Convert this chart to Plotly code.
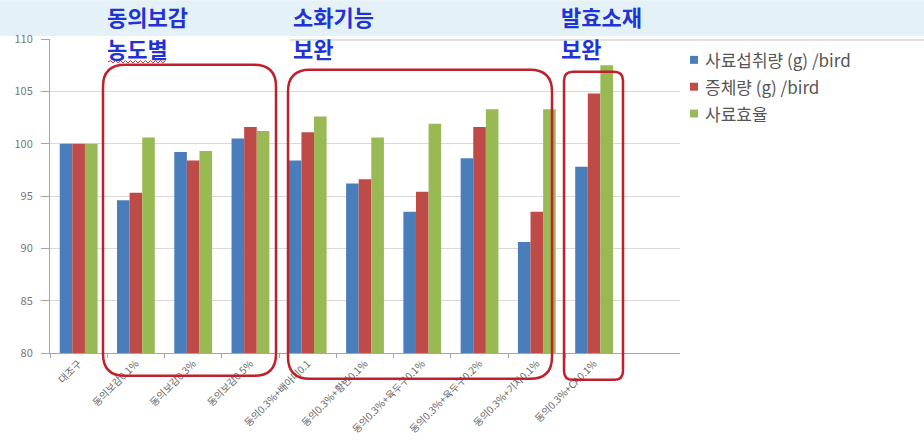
import plotly.graph_objects as go

# Treatment groups and relative performance indices (control = 100)
categories = [
    "대조구",
    "동의보감0.1%",
    "동의보감0.3%",
    "동의보감0.5%",
    "동의0.3%+배아미0.1",
    "동의0.3%+황반0.1%",
    "동의0.3%+육두구0.1%",
    "동의0.3%+육두구0.2%",
    "동의0.3%+기자0.1%",
    "동의0.3%+CA0.1%",
]
feed_intake = [100, 94.6, 99.2, 100.5, 98.4, 96.2, 93.5, 98.6, 90.6, 97.8]
weight_gain = [100, 95.3, 98.4, 101.6, 101.1, 96.6, 95.4, 101.6, 93.5, 104.8]
feed_eff = [100, 100.6, 99.3, 101.2, 102.6, 100.6, 101.9, 103.3, 103.3, 107.5]

series_names = ["사료섭취량 (g) /bird", "증체량 (g) /bird", "사료효율"]
series_colors = ["#4a7ebb", "#be4b48", "#98b954"]
y_ticks = [80, 85, 90, 95, 100, 105, 110]

group_titles = [("동의보감", "농도별"), ("소화기능", "보완"), ("발효소재", "보완")]

W, H = 924, 448
L, R, T, B = 50, 680, 39, 355  # plot area in pixels


def px(x):
    return (x - L) / (R - L)


def py(y):
    return (B - y) / (B - T)


def rounded_box(x0, y0, x1, y1, r):
    """SVG path for a rounded rectangle, given in pixel coordinates."""
    pts = [
        f"M {px(x0 + r)} {py(y0)}",
        f"L {px(x1 - r)} {py(y0)}",
        f"Q {px(x1)} {py(y0)} {px(x1)} {py(y0 + r)}",
        f"L {px(x1)} {py(y1 - r)}",
        f"Q {px(x1)} {py(y1)} {px(x1 - r)} {py(y1)}",
        f"L {px(x0 + r)} {py(y1)}",
        f"Q {px(x0)} {py(y1)} {px(x0)} {py(y1 - r)}",
        f"L {px(x0)} {py(y0 + r)}",
        f"Q {px(x0)} {py(y0)} {px(x0 + r)} {py(y0)}",
        "Z",
    ]
    return " ".join(pts)


fig = go.Figure()
for name, vals, col in zip(series_names, [feed_intake, weight_gain, feed_eff], series_colors):
    fig.add_trace(go.Bar(
        x=categories, y=vals, name=name, marker_color=col,
        marker_line_width=0, showlegend=False,
    ))

shapes = []
annotations = []

# header tint of the slide
shapes.append(dict(type="rect", xref="paper", yref="paper",
                   x0=px(0), x1=px(W), y0=py(36), y1=py(0),
                   fillcolor="#e4f2f7", line_width=0, layer="below"))
shapes.append(dict(type="line", xref="paper", yref="paper",
                   x0=px(290), x1=px(W), y0=py(40), y1=py(40),
                   line=dict(color="#b9c4c8", width=1), layer="below"))

# group outlines
for (x0, y0, x1, y1, r) in [(103, 65, 276, 378, 22), (288, 70, 552, 381, 22), (564, 72, 623, 382, 9)]:
    shapes.append(dict(type="path", xref="paper", yref="paper",
                       path=rounded_box(x0, y0, x1, y1, r),
                       line=dict(color="#c0202c", width=2.5)))

# squiggle under 농도별
zig = [f"M {px(108)} {py(62)}"]
x = 108
up = True
while x < 164:
    x += 2.5
    zig.append(f"L {px(x)} {py(60.8 if up else 63)}")
    up = not up
shapes.append(dict(type="path", xref="paper", yref="paper", path=" ".join(zig),
                   line=dict(color="#d03030", width=1)))

# group headings, two lines each
title_font = dict(family="Noto Sans CJK KR", size=22, color="#1f33d6", weight="bold")
for (line1, line2), x0 in zip(group_titles, [106, 292, 560]):
    for text, yc in [(line1, 16), (line2, 48)]:
        annotations.append(dict(
            text=text, xref="paper", yref="paper", x=px(x0), y=py(yc),
            xanchor="left", yanchor="middle", showarrow=False, borderpad=0,
            font=title_font,
        ))

# legend: small swatches with labels
for i, (name, col) in enumerate(zip(series_names, series_colors)):
    cy = 60 + 27 * i
    shapes.append(dict(type="rect", xref="paper", yref="paper",
                       x0=px(690), x1=px(698), y0=py(cy + 4), y1=py(cy - 4),
                       fillcolor=col, line_width=0))
    annotations.append(dict(
        text=name, xref="paper", yref="paper", x=px(703), y=py(cy),
        xanchor="left", yanchor="middle", showarrow=False,
        font=dict(family="Noto Sans CJK KR", size=17, color="#555555"),
    ))

fig.update_layout(
    width=W, height=H,
    margin=dict(l=L, r=W - R, t=T, b=H - B),
    paper_bgcolor="white", plot_bgcolor="white",
    barmode="group", bargap=0.34, bargroupgap=0,
    font=dict(family="Noto Sans CJK KR", color="#666666"),
    shapes=shapes, annotations=annotations,
    showlegend=False,
    xaxis=dict(
        type="category", range=[-0.5, 10.5], tickangle=-45,
        tickfont=dict(size=10, color="#666666"),
        showline=True, linecolor="#a6a6a6", linewidth=1,
        ticks="outside", tickson="boundaries", ticklen=4, tickcolor="#a6a6a6",
        showgrid=False,
    ),
    yaxis=dict(
        range=[80, 110], tickvals=y_ticks,
        tickfont=dict(size=11, color="#777777"),
        showgrid=True, gridcolor="#d9d9d9", gridwidth=1,
        showline=True, linecolor="#a6a6a6", ticks="outside", ticklen=8,
        tickcolor="#a6a6a6", zeroline=False, ticklabelstandoff=6,
    ),
)

fig.write_html("out.html")
